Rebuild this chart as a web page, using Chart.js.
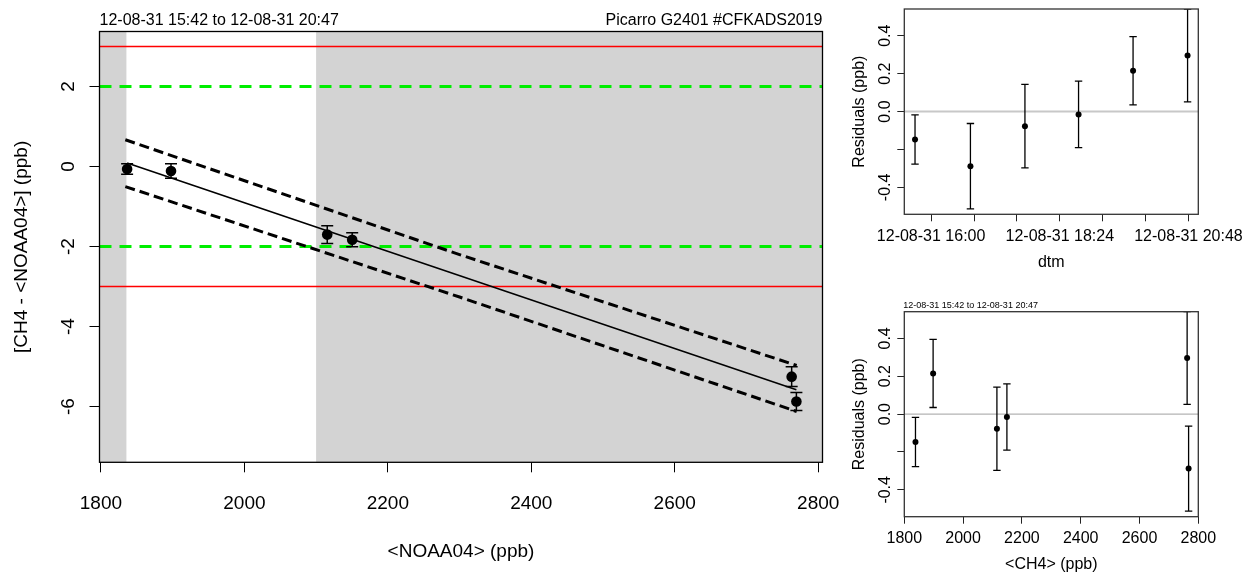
<!DOCTYPE html>
<html>
<head>
<meta charset="utf-8">
<script src="https://cdn.jsdelivr.net/npm/chart.js@4"></script>
<style>
  body { margin: 0; background: #fff; }
  canvas { position: absolute; }
  #main { left: 0; top: 0; }
  #resTime { left: 840px; top: 0; }
  #resConc { left: 840px; top: 290px; }
</style>
</head>
<body>
<canvas id="main" width="870" height="574"></canvas>
<canvas id="resTime" width="407" height="290"></canvas>
<canvas id="resConc" width="407" height="284"></canvas>
<script>
// calibration run, samples in time order
const sampleTimes = ['15:42', '16:44', '17:45', '18:45', '19:46', '20:47'];
const noaa = [1836.5, 2769.6, 2115.5, 2150.3, 1897.7, 2763.0];
const ch4 = [1838, 2767, 2115, 2149, 1898, 2762];
const ch4Diff = [-0.06, -5.87, -1.70, -1.83, -0.11, -5.25];
const diffErr = [0.13, 0.225, 0.22, 0.175, 0.18, 0.245];
const residuals = [-0.147, -0.288, -0.077, -0.015, 0.215, 0.296];

// regression line and its band
const fitX = [1836.5, 2769.6];
const fitY = [0.09, -5.58];
const bandX = [1834, 2300, 2770];
const bandUpper = [0.67, -2.20, -4.97];
const bandLower = [-0.50, -3.26, -6.12];

// acceptance limits
const warnLimits = [2, -2];
const hardLimits = [3, -3];

// axes
const mainXRange = [1798, 2806];
const mainYRange = [-7.39, 3.375];
const greyBands = [[1798, 1835.5], [2100, 2806]];
const mainXTicks = [1800, 2000, 2200, 2400, 2600, 2800];
const mainYTicks = [-6, -4, -2, 0, 2];
const resRange = [-0.542, 0.541];
const resTicks = [-0.4, -0.2, 0.0, 0.2, 0.4];
const resTickLabels = ['-0.4', '', '0.0', '0.2', '0.4'];
const timeRange = ['15:30', '20:59'];
const timeTicks = ['16:00', '16:48', '17:36', '18:24', '19:12', '20:00', '20:48'];
const timeTickLabels = ['12-08-31 16:00', '', '', '12-08-31 18:24', '', '', '12-08-31 20:48'];
const concRange = [1800, 2800];
const concTicks = [1800, 2000, 2200, 2400, 2600, 2800];

const FONT = '"Liberation Sans", Arial, Helvetica, sans-serif';
Chart.defaults.font.family = FONT;
Chart.defaults.color = '#000';

const toMinutes = s => { const [h, m] = s.split(':').map(Number); return h * 60 + m; };
const pts = (xs, ys) => xs.map((x, i) => ({ x: x, y: ys[i] }));
const hline = (range, v) => [{ x: range[0], y: v }, { x: range[1], y: v }];

function fixAxis(size) {
  return function (scale) {
    if (scale.isHorizontal()) scale.height = size; else scale.width = size;
    scale.paddingLeft = scale.paddingRight = scale.paddingTop = scale.paddingBottom = 0;
  };
}
function setTicks(values) {
  return function (scale) { scale.ticks = values.map(v => ({ value: v })); };
}

function errorBars(xs, ys, errs, cap, width) {
  return {
    id: 'errorBars',
    afterDatasetsDraw(chart) {
      const { ctx, chartArea: a, scales: { x, y } } = chart;
      ctx.save();
      ctx.beginPath();
      ctx.rect(a.left, a.top, a.width, a.height);
      ctx.clip();
      ctx.strokeStyle = '#000';
      ctx.lineWidth = width;
      xs.forEach((xv, i) => {
        const px = x.getPixelForValue(xv);
        const top = y.getPixelForValue(ys[i] + errs[i]);
        const bot = y.getPixelForValue(ys[i] - errs[i]);
        ctx.beginPath();
        ctx.moveTo(px, top); ctx.lineTo(px, bot);
        ctx.moveTo(px - cap, top); ctx.lineTo(px + cap, top);
        ctx.moveTo(px - cap, bot); ctx.lineTo(px + cap, bot);
        ctx.stroke();
      });
      ctx.restore();
    }
  };
}

// box, shaded bands, vertical y labels and header text
function frame(opts) {
  return {
    id: 'frame',
    beforeDatasetsDraw(chart) {
      const { ctx, chartArea: a, scales: { x } } = chart;
      ctx.save();
      ctx.fillStyle = '#d3d3d3';
      (opts.bands || []).forEach(([from, to]) => {
        const l = Math.max(a.left, x.getPixelForValue(from));
        const r = Math.min(a.right, x.getPixelForValue(to));
        ctx.fillRect(l, a.top, r - l, a.height);
      });
      ctx.restore();
    },
    afterDraw(chart) {
      const { ctx, chartArea: a, scales: { y } } = chart;
      ctx.save();
      ctx.strokeStyle = opts.boxColor;
      ctx.lineWidth = 1.3;
      ctx.strokeRect(a.left, a.top, a.width, a.height);
      ctx.fillStyle = '#000';
      ctx.font = opts.tickSize + 'px ' + FONT;
      ctx.textAlign = 'center';
      ctx.textBaseline = 'middle';
      y.ticks.forEach((t, i) => {
        const label = opts.yLabels[i];
        if (!label) return;
        ctx.save();
        ctx.translate(opts.yLabelX, y.getPixelForValue(t.value));
        ctx.rotate(-Math.PI / 2);
        ctx.fillText(label, 0, 0);
        ctx.restore();
      });
      ctx.textBaseline = 'alphabetic';
      (opts.headers || []).forEach(h => {
        ctx.font = h.size + 'px ' + FONT;
        ctx.textAlign = h.align;
        ctx.fillText(h.text, h.align === 'left' ? a.left + (h.dx || 0) : a.right + (h.dx || 0), h.y);
      });
      ctx.restore();
    }
  };
}

function lineSet(data, color, width, dash) {
  return {
    data: data, showLine: true, borderColor: color, borderWidth: width,
    borderDash: dash || [], borderCapStyle: 'butt', pointRadius: 0, fill: false
  };
}

// main calibration panel
new Chart(document.getElementById('main'), {
  type: 'scatter',
  data: {
    datasets: [
      { data: pts(noaa, ch4Diff), backgroundColor: '#000', borderWidth: 0, pointRadius: 5.3 },
      lineSet(pts(fitX, fitY), '#000', 1.6),
      lineSet(pts(bandX, bandUpper), '#000', 3, [10, 5]),
      lineSet(pts(bandX, bandLower), '#000', 3, [10, 5]),
      ...warnLimits.map(v => lineSet(hline(mainXRange, v), '#00ee00', 3, [12, 8])),
      ...hardLimits.map(v => lineSet(hline(mainXRange, v), '#ff0000', 1.5))
    ]
  },
  options: {
    responsive: false, animation: false, events: [],
    layout: { padding: { left: 0, top: 31.5, right: 47.5, bottom: 0 } },
    plugins: { legend: { display: false }, tooltip: { enabled: false } },
    scales: {
      x: {
        type: 'linear', min: mainXRange[0], max: mainXRange[1],
        afterBuildTicks: setTicks(mainXTicks), afterFit: fixAxis(111.7),
        grid: { drawOnChartArea: false, tickLength: 10, color: '#000' },
        border: { display: false },
        ticks: { font: { size: 19 }, padding: 20, maxRotation: 0, autoSkip: false, callback: v => String(v) },
        title: { display: true, text: '<NOAA04> (ppb)', font: { size: 19 }, padding: { top: 0, bottom: 10.6 } }
      },
      y: {
        type: 'linear', min: mainYRange[0], max: mainYRange[1],
        afterBuildTicks: setTicks(mainYTicks), afterFit: fixAxis(99.5),
        grid: { drawOnChartArea: false, tickLength: 10, color: '#000' },
        border: { display: false },
        ticks: { display: false },
        title: { display: true, text: '[CH4 - <NOAA04>] (ppb)', font: { size: 19 }, padding: { top: 10.6, bottom: 0 } }
      }
    }
  },
  plugins: [
    frame({
      bands: greyBands, boxColor: '#000', tickSize: 19, yLabelX: 69,
      yLabels: mainYTicks.map(String),
      headers: [
        { text: '12-08-31 15:42 to 12-08-31 20:47', align: 'left', size: 16, y: 25 },
        { text: 'Picarro G2401 #CFKADS2019', align: 'right', size: 16, y: 25 }
      ]
    }),
    errorBars(noaa, ch4Diff, diffErr, 6, 1.5)
  ]
});

function residualChart(id, xs, xRange, xTicks, xLabels, xTitle, opts) {
  return new Chart(document.getElementById(id), {
    type: 'scatter',
    data: {
      datasets: [
        { data: pts(xs, residuals), backgroundColor: '#000', borderWidth: 0, pointRadius: 3 },
        lineSet(hline(xRange, 0), opts.zeroColor, opts.zeroWidth)
      ]
    },
    options: {
      responsive: false, animation: false, events: [],
      layout: { padding: { left: 0, top: opts.top, right: 48.7, bottom: 0 } },
      plugins: { legend: { display: false }, tooltip: { enabled: false } },
      scales: {
        x: {
          type: 'linear', min: xRange[0], max: xRange[1],
          afterBuildTicks: setTicks(xTicks), afterFit: fixAxis(opts.xHeight),
          grid: { drawOnChartArea: false, tickLength: 7, color: '#222' },
          border: { display: false },
          ticks: {
            font: { size: 16 }, padding: opts.tickPad, maxRotation: 0, autoSkip: false,
            callback: (v, i) => xLabels[i]
          },
          title: { display: true, text: xTitle, font: { size: 16 }, padding: { top: 0, bottom: opts.titlePad } }
        },
        y: {
          type: 'linear', min: resRange[0], max: resRange[1],
          afterBuildTicks: setTicks(resTicks), afterFit: fixAxis(64.3),
          grid: { drawOnChartArea: false, tickLength: 7, color: '#222' },
          border: { display: false },
          ticks: { display: false },
          title: { display: true, text: 'Residuals (ppb)', font: { size: 16 }, padding: { top: 9.6, bottom: 0 } }
        }
      }
    },
    plugins: [
      frame({ boxColor: '#333', tickSize: 16, yLabelX: 45.5, yLabels: resTickLabels, headers: opts.headers }),
      errorBars(xs, residuals, diffErr, 3.7, 1.3)
    ]
  });
}

// residuals against sample time
residualChart('resTime', sampleTimes.map(toMinutes), timeRange.map(toMinutes),
  timeTicks.map(toMinutes), timeTickLabels, 'dtm',
  { top: 9, xHeight: 75.7, tickPad: 5.8, titlePad: 17.4, zeroColor: '#c8c8c8', zeroWidth: 2 });

// residuals against measured concentration
residualChart('resConc', ch4, concRange, concTicks, concTicks.map(String), '<CH4> (ppb)',
  { top: 21.7, xHeight: 57.3, tickPad: 5, titlePad: 0, zeroColor: '#a0a0a0', zeroWidth: 1,
    headers: [{ text: '12-08-31 15:42 to 12-08-31 20:47', align: 'left', size: 9, y: 18, dx: -1 }] });
</script>
</body>
</html>
